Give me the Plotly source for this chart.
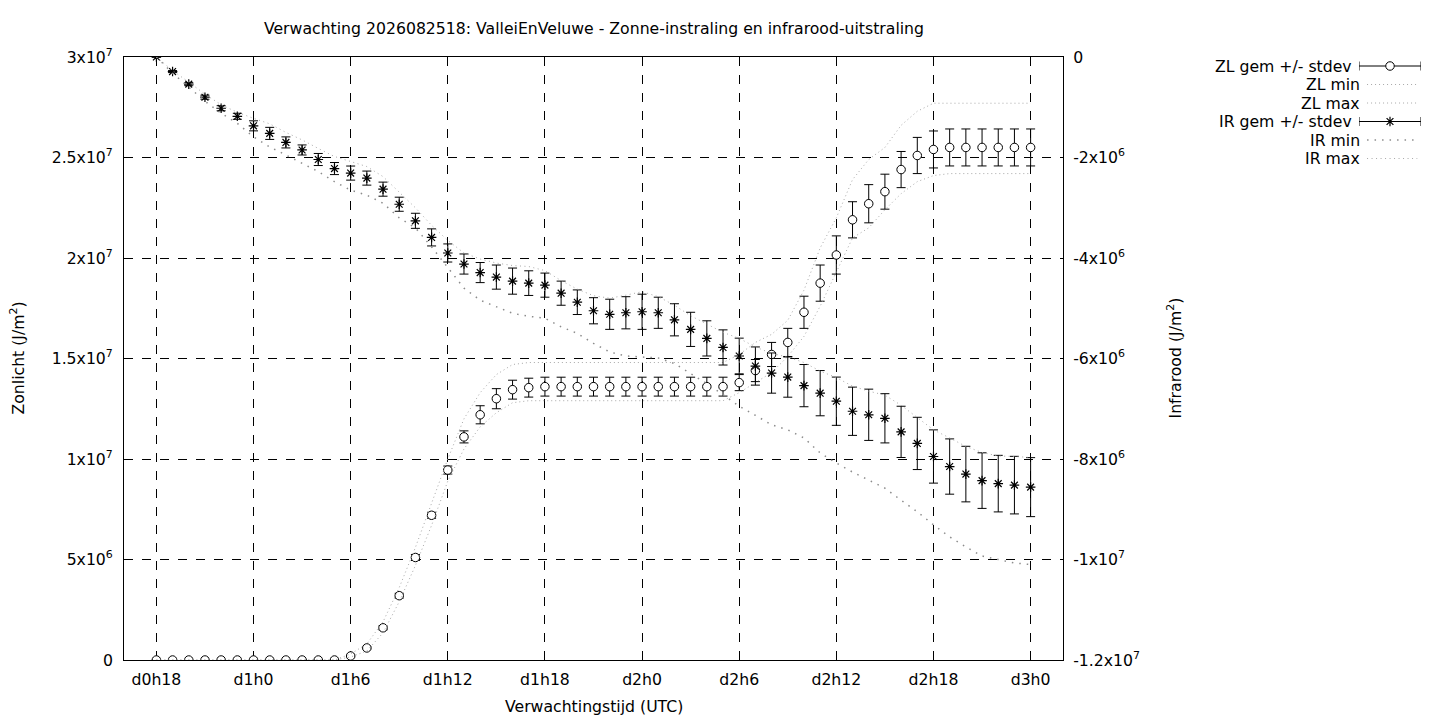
import numpy as np
import plotly.graph_objects as go

# uren sinds d0h18 (elk uur een verwachting)
uren = list(range(55))
x_tickvals = [0, 6, 12, 18, 24, 30, 36, 42, 48, 54]
x_ticktext = ["d0h18", "d1h0", "d1h6", "d1h12", "d1h18", "d2h0", "d2h6", "d2h12", "d2h18", "d3h0"]

# zonlicht, in 1e6 J/m2
zl_gem = [0] * 12 + [0.2, 0.6, 1.6, 3.2, 5.1, 7.2, 9.45, 11.1, 12.2, 13.0, 13.45, 13.55] \
    + [13.6] * 12 + [13.8, 14.4, 15.2, 15.8, 17.3, 18.75, 20.15, 21.9, 22.7, 23.3, 24.4, 25.1, 25.4] \
    + [25.5] * 6
zl_std = [0] * 12 + [0.05, 0.05, 0.1, 0.12, 0.15, 0.15, 0.2, 0.3, 0.45, 0.5, 0.47, 0.47] \
    + [0.47] * 12 + [0.4, 0.55, 0.6, 0.7, 0.8, 0.9, 0.95, 0.9, 0.95, 0.87, 0.9, 0.9, 0.92] \
    + [0.92] * 6
zl_min = [0] * 12 + [0.15, 0.45, 1.35, 2.9, 4.7, 6.7, 8.9, 10.5, 11.6, 12.3, 12.8, 12.9] \
    + [12.9] * 12 + [13.3, 13.8, 14.3, 15.1, 16.1, 17.6, 19.3, 21.0, 21.5, 22.4, 23.2, 23.8, 24.1] \
    + [24.2] * 6
zl_max = [0] * 12 + [0.3, 0.8, 1.9, 3.6, 5.6, 7.8, 10.0, 12.0, 13.3, 14.2, 14.7, 14.8] \
    + [14.8] * 12 + [15.2, 15.8, 16.2, 16.9, 18.4, 20.5, 22.0, 23.9, 24.9, 25.5, 26.6, 27.3, 27.7] \
    + [27.7] * 6

# infrarood, in 1e6 J/m2
ir_gem = [0, -0.29, -0.54, -0.80, -1.02, -1.18, -1.37, -1.52, -1.70, -1.85, -2.04, -2.22,
          -2.31, -2.41, -2.63, -2.93, -3.26, -3.59, -3.90, -4.12, -4.29, -4.38, -4.46, -4.50,
          -4.54, -4.70, -4.88, -5.05, -5.12, -5.09, -5.07, -5.09, -5.23, -5.42, -5.60, -5.78,
          -5.95, -6.15, -6.29, -6.37, -6.54, -6.69, -6.85, -7.05, -7.12, -7.19, -7.46, -7.69,
          -7.95, -8.15, -8.30, -8.43, -8.49, -8.52, -8.56]
ir_std = [0, 0.02, 0.03, 0.04, 0.05, 0.06, 0.10, 0.12, 0.11, 0.10, 0.12, 0.12,
          0.14, 0.14, 0.14, 0.14, 0.15, 0.17, 0.18, 0.20, 0.20, 0.24, 0.26, 0.245,
          0.24, 0.24, 0.245, 0.26, 0.30, 0.32, 0.35, 0.31, 0.32, 0.34, 0.35, 0.35,
          0.355, 0.38, 0.40, 0.40, 0.42, 0.45, 0.48, 0.48, 0.51, 0.49, 0.51, 0.52,
          0.53, 0.55, 0.553, 0.553, 0.563, 0.573, 0.587]
ir_min = [0, -0.32, -0.60, -0.88, -1.12, -1.32, -1.59, -1.79, -1.95, -2.11, -2.28, -2.48,
          -2.65, -2.75, -2.91, -3.20, -3.40, -3.78, -4.20, -4.60, -4.84, -4.97, -5.10, -5.16,
          -5.20, -5.37, -5.50, -5.70, -5.87, -5.95, -5.97, -5.99, -6.10, -6.30, -6.50, -6.72,
          -6.95, -7.13, -7.32, -7.42, -7.58, -7.88, -8.08, -8.26, -8.42, -8.58, -8.82, -9.05,
          -9.31, -9.55, -9.75, -9.93, -10.00, -10.07, -10.10]
ir_max = [0, -0.27, -0.50, -0.74, -0.95, -1.10, -1.22, -1.33, -1.50, -1.65, -1.82, -1.98,
          -2.08, -2.18, -2.38, -2.68, -3.00, -3.35, -3.65, -3.90, -4.02, -4.10, -4.15, -4.17,
          -4.25, -4.45, -4.62, -4.75, -4.80, -4.74, -4.67, -4.77, -4.94, -5.15, -5.32, -5.48,
          -5.60, -5.77, -5.90, -5.97, -6.08, -6.25, -6.38, -6.55, -6.65, -6.73, -6.93, -7.17,
          -7.42, -7.58, -7.75, -7.87, -7.94, -7.95, -7.97]

y_tickvals = [0, 5e6, 1e7, 1.5e7, 2e7, 2.5e7, 3e7]
y_ticktext = ["0", "5x10<sup>6</sup>", "1x10<sup>7</sup>", "1.5x10<sup>7</sup>",
              "2x10<sup>7</sup>", "2.5x10<sup>7</sup>", "3x10<sup>7</sup>"]
y2_tickvals = [0, -2e6, -4e6, -6e6, -8e6, -1e7, -1.2e7]
y2_ticktext = ["0", "-2x10<sup>6</sup>", "-4x10<sup>6</sup>", "-6x10<sup>6</sup>",
               "-8x10<sup>6</sup>", "-1x10<sup>7</sup>", "-1.2x10<sup>7</sup>"]

legend_namen = ["ZL gem +/- stdev", "ZL min", "ZL max", "IR gem +/- stdev", "IR min", "IR max"]

E6 = 1e6
FONT = "DejaVu Sans"
FS = 15.7
OFF = 8  # pagina-marge van de browser
W, H = 1440 - OFF, 720 - OFF
ML, MT = 124 - OFF, 57 - OFF
MR = 10
MB = H - (660 - OFF)
pw = W - ML - MR
ph = H - MT - MB


def px_x(sx):
    # schermpixel -> paper-x
    return (sx - OFF - ML) / pw


def px_y(sy):
    # schermpixel -> paper-y
    return 1 - (sy - OFF - MT) / ph


ZL_DOT = dict(color="#a8a8a8", width=1, dash="1px,3px")
IR_MIN_DOT = dict(color="#8c8c8c", width=1.5, dash="1.5px,6px")
IR_MAX_DOT = dict(color="#a8a8a8", width=1, dash="1px,3.5px")
circle = dict(symbol="circle", size=8.5, color="white", line=dict(color="black", width=1))
star = dict(symbol="asterisk-open", size=8, color="black", line=dict(color="black", width=1.2))
ebar = dict(type="data", color="black", thickness=1, width=4.5)

fig = go.Figure()

fig.add_trace(go.Scatter(x=uren, y=np.array(zl_gem) * E6, mode="markers", marker=circle,
                         error_y=dict(array=np.array(zl_std) * E6, **ebar), showlegend=False))
fig.add_trace(go.Scatter(x=uren, y=np.array(zl_min) * E6, mode="lines", line=ZL_DOT, showlegend=False))
fig.add_trace(go.Scatter(x=uren, y=np.array(zl_max) * E6, mode="lines", line=ZL_DOT, showlegend=False))
fig.add_trace(go.Scatter(x=uren, y=np.array(ir_gem) * E6, yaxis="y2", mode="markers", marker=star,
                         error_y=dict(array=np.array(ir_std) * E6, **ebar), showlegend=False))
fig.add_trace(go.Scatter(x=uren, y=np.array(ir_min) * E6, yaxis="y2", mode="lines", line=IR_MIN_DOT,
                         showlegend=False))
fig.add_trace(go.Scatter(x=uren, y=np.array(ir_max) * E6, yaxis="y2", mode="lines", line=IR_MAX_DOT,
                         showlegend=False))

# eigen legenda (gnuplot-stijl: tekst links, voorbeeld rechts), y3 in schermpixels
rows = [66, 84.5, 103, 121.5, 140, 158.5]
stijlen = [None, ZL_DOT, ZL_DOT, None, IR_MIN_DOT, IR_MAX_DOT]
for i, (naam, st) in enumerate(zip(legend_namen, stijlen)):
    if st is None:
        fig.add_trace(go.Scatter(x=[0.5], y=[rows[i]], xaxis="x3", yaxis="y3", mode="markers",
                                 marker=circle if i == 0 else star,
                                 error_x=dict(array=[0.5], **ebar),
                                 showlegend=False, hoverinfo="skip"))
        tekst_x = 1354
    else:
        fig.add_trace(go.Scatter(x=[0.13, 0.94], y=[rows[i], rows[i]], xaxis="x3", yaxis="y3", mode="lines",
                                 line=st, showlegend=False, hoverinfo="skip"))
        tekst_x = 1362
    fig.add_annotation(text=naam, x=px_x(tekst_x), y=px_y(rows[i]), xref="paper", yref="paper",
                       xanchor="right", yanchor="middle", showarrow=False,
                       font=dict(family=FONT, size=FS, color="black"))

axis_common = dict(showline=True, linecolor="black", linewidth=1, zeroline=False,
                   tickfont=dict(family=FONT, size=FS, color="black"), ticks="")

fig.update_layout(
    width=W, height=H,
    margin=dict(l=ML, r=MR, t=MT, b=MB),
    paper_bgcolor="white", plot_bgcolor="white",
    font=dict(family=FONT, size=FS, color="black"),
    title=dict(text="Verwachting 2026082518: ValleiEnVeluwe - Zonne-instraling en infrarood-uitstraling",
               x=(594 - OFF) / W, xanchor="center", y=1 - (29 - OFF) / H, yanchor="middle",
               font=dict(family=FONT, size=FS, color="black")),
    xaxis=dict(domain=[0, 939 / pw], range=[-2, 56], tickvals=x_tickvals, ticktext=x_ticktext,
               showgrid=True, gridcolor="black", gridwidth=1, griddash="dash", mirror=True,
               ticklabelstandoff=5, **axis_common),
    yaxis=dict(range=[0, 3e7], tickvals=y_tickvals, ticktext=y_ticktext,
               showgrid=True, gridcolor="black", gridwidth=1, griddash="dash",
               ticklabelstandoff=7, **axis_common),
    yaxis2=dict(range=[-1.2e7, 0], tickvals=y2_tickvals, ticktext=y2_ticktext, overlaying="y",
                side="right", anchor="x", showgrid=False, ticklabelstandoff=6, **axis_common),
    xaxis3=dict(domain=[px_x(1359), px_x(1421)], range=[0, 1], visible=False,
                anchor="y3", fixedrange=True),
    yaxis3=dict(domain=[px_y(167.5), 1], range=[167.5, 57], visible=False,
                anchor="x3", fixedrange=True),
)

fig.add_annotation(text="Zonlicht (J/m<sup>2</sup>)", x=px_x(18), y=px_y(358.5), xref="paper", yref="paper",
                   textangle=-90, showarrow=False, xanchor="center", yanchor="middle")
fig.add_annotation(text="Infrarood (J/m<sup>2</sup>)", x=px_x(1175), y=px_y(358.5), xref="paper", yref="paper",
                   textangle=-90, showarrow=False, xanchor="center", yanchor="middle")
fig.add_annotation(text="Verwachtingstijd (UTC)", x=px_x(593.5), y=px_y(706),
                   xref="paper", yref="paper", showarrow=False, xanchor="center", yanchor="middle")

fig.write_html("out.html")
